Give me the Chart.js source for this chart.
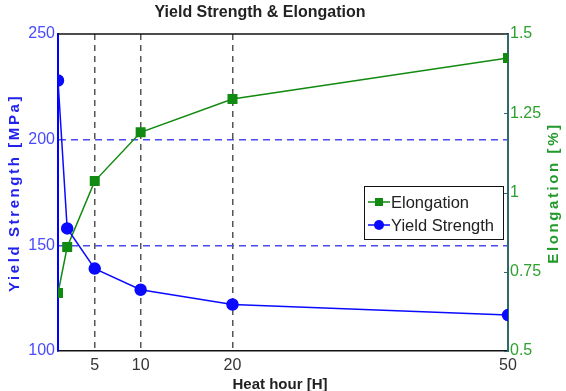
<!DOCTYPE html>
<html>
<head>
<meta charset="utf-8">
<script src="https://cdn.jsdelivr.net/npm/chart.js@4"></script>
<style>
  html, body { margin: 0; padding: 0; background: #fff; }
  #wrap { width: 566px; height: 391px; }
</style>
</head>
<body>
<div id="wrap"><canvas id="chart"></canvas></div>
<script>
const hours = [1, 2, 5, 10, 20, 50];
const yieldStrength = [228, 158, 139, 129, 122, 117];
const elongation = [0.683, 0.828, 1.036, 1.19, 1.295, 1.424];
const hourTicks = [5, 10, 20, 50];
const elongTicks = [0.5, 0.75, 1, 1.25, 1.5];

const FONT = "'Liberation Sans', Arial, sans-serif";
const BLUE = "#0a0aff";
const GREEN = "#108a10";

// titles and legend drawn on top, frame line at top
const decorations = {
  id: "decorations",
  afterDraw(chart) {
    const ctx = chart.ctx;
    const a = chart.chartArea;
    ctx.save();
    // top frame
    ctx.strokeStyle = "#111";
    ctx.lineWidth = 1.5;
    ctx.beginPath();
    ctx.moveTo(a.left, a.top);
    ctx.lineTo(a.right, a.top);
    ctx.stroke();

    ctx.textAlign = "center";
    ctx.textBaseline = "middle";
    ctx.fillStyle = "#222";
    ctx.font = "bold 16px " + FONT;
    ctx.fillText("Yield Strength & Elongation", 260, 13);

    ctx.font = "bold 15px " + FONT;
    ctx.fillText("Heat hour [H]", 280, 385);

    // left title
    ctx.save();
    ctx.translate(15, 193);
    ctx.rotate(-Math.PI / 2);
    ctx.fillStyle = "#2222ee";
    ctx.letterSpacing = "2.6px";
    ctx.font = "bold 15px " + FONT;
    ctx.fillText("Yield Strength [MPa]", 0, 0);
    ctx.restore();

    // right title
    ctx.save();
    ctx.translate(554, 193);
    ctx.rotate(-Math.PI / 2);
    ctx.fillStyle = "#22992a";
    ctx.letterSpacing = "2.6px";
    ctx.font = "bold 15px " + FONT;
    ctx.fillText("Elongation [%]", 0, 0);
    ctx.restore();

    // small inward ticks on the right axis
    const y2 = chart.scales.y2;
    ctx.strokeStyle = "#2f6a6a";
    ctx.lineWidth = 1;
    elongTicks.forEach((v) => {
      const py = Math.round(y2.getPixelForValue(v)) + 0.5;
      ctx.beginPath();
      ctx.moveTo(a.right - 4, py);
      ctx.lineTo(a.right, py);
      ctx.stroke();
    });

    // legend
    const lx = 364, ly = 186, lw = 139, lh = 53;
    ctx.fillStyle = "#fff";
    ctx.fillRect(lx, ly, lw, lh);
    ctx.strokeStyle = "#111";
    ctx.lineWidth = 1;
    ctx.strokeRect(lx + 0.5, ly + 0.5, lw, lh);
    const items = [
      { text: "Elongation", color: GREEN, style: "rect" },
      { text: "Yield Strength", color: BLUE, style: "circle" }
    ];
    items.forEach((it, i) => {
      const y = ly + 16 + i * 23;
      ctx.strokeStyle = it.color;
      ctx.lineWidth = 1.5;
      ctx.beginPath();
      ctx.moveTo(lx + 4, y);
      ctx.lineTo(lx + 26, y);
      ctx.stroke();
      ctx.fillStyle = it.color;
      if (it.style === "rect") {
        ctx.fillRect(lx + 11, y - 4, 8, 8);
      } else {
        ctx.beginPath();
        ctx.arc(lx + 15, y, 5, 0, Math.PI * 2);
        ctx.fill();
      }
      ctx.fillStyle = "#222";
      ctx.textAlign = "left";
      ctx.font = "16.5px " + FONT;
      ctx.fillText(it.text, lx + 27, y + 1);
    });
    ctx.restore();
  }
};

new Chart(document.getElementById("chart"), {
  type: "line",
  data: {
    datasets: [
      {
        label: "Yield Strength",
        data: hours.map((h, i) => ({ x: h, y: yieldStrength[i] })),
        yAxisID: "y",
        borderColor: BLUE,
        backgroundColor: BLUE,
        borderWidth: 1.5,
        pointStyle: "circle",
        pointRadius: 5.5,
        pointHoverRadius: 5.5,
        tension: 0
      },
      {
        label: "Elongation",
        data: hours.map((h, i) => ({ x: h, y: elongation[i] })),
        yAxisID: "y2",
        borderColor: GREEN,
        backgroundColor: GREEN,
        borderWidth: 1.5,
        pointStyle: "rect",
        pointRadius: 6,
        pointHoverRadius: 6,
        tension: 0
      }
    ]
  },
  options: {
    responsive: true,
    maintainAspectRatio: false,
    animation: false,
    layout: { padding: { top: 34, left: 0, right: 0, bottom: 0 } },
    plugins: {
      legend: { display: false },
      title: { display: false },
      tooltip: { enabled: false }
    },
    scales: {
      x: {
        type: "linear",
        min: 1,
        max: 50,
        afterBuildTicks: (scale) => {
          scale.ticks = hourTicks.map((v) => ({ value: v }));
        },
        afterFit: (scale) => { scale.height = 40; },
        ticks: {
          color: "#333",
          font: { family: FONT, size: 16 },
          padding: 5,
          maxRotation: 0,
          autoSkip: false
        },
        grid: {
          drawTicks: false,
          color: (c) => (c.tick && c.tick.value === 50 ? "transparent" : "#555"),
          lineWidth: 1.5
        },
        border: { display: true, color: "#111", width: 1.5, dash: [6, 5] }
      },
      y: {
        position: "left",
        min: 100,
        max: 250,
        afterFit: (scale) => { scale.width = 58; },
        ticks: {
          stepSize: 50,
          color: "#4a4aff",
          font: { family: FONT, size: 16 },
          padding: 3
        },
        grid: {
          drawTicks: false,
          color: (c) => (c.tick && (c.tick.value === 150 || c.tick.value === 200) ? "#4b4bee" : "transparent"),
          lineWidth: 1.5
        },
        border: { display: true, color: "#0000ff", width: 2, dash: [7, 5] }
      },
      y2: {
        position: "right",
        min: 0.5,
        max: 1.5,
        afterBuildTicks: (scale) => {
          scale.ticks = elongTicks.map((v) => ({ value: v }));
        },
        afterFit: (scale) => { scale.width = 58; },
        ticks: {
          color: "#2ea02e",
          font: { family: FONT, size: 16 },
          padding: 2,
          callback: (v) => String(v)
        },
        grid: { display: false, drawTicks: false },
        border: { display: true, color: "#2f6a6a", width: 2 }
      }
    }
  },
  plugins: [decorations]
});
</script>
</body>
</html>
